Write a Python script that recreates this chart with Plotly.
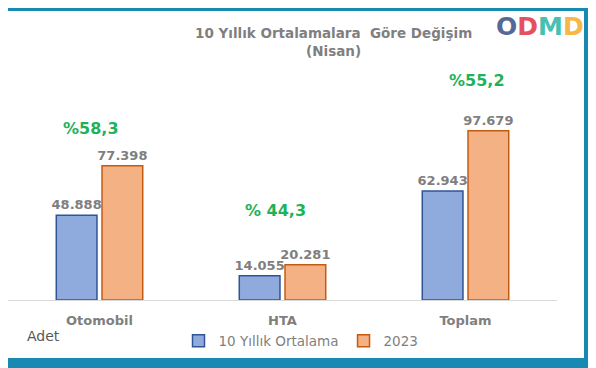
import plotly.graph_objects as go

categories = ["Otomobil", "HTA", "Toplam"]
avg10 = [48888, 14055, 62943]
y2023 = [77398, 20281, 97679]
pct_labels = ["%58,3", "% 44,3", "%55,2"]
series_names = ["10 Yıllık Ortalama", "2023"]

def fmt(v):
    return f"{v:,}".replace(",", ".")

FONT = "DejaVu Sans"
GRAY = "#7f7f7f"

fig = go.Figure()
for name, vals, fill, edge in [(series_names[0], avg10, "#8faadc", "#2f5597"),
                               (series_names[1], y2023, "#f4b183", "#c55a11")]:
    fig.add_trace(go.Bar(
        name=name, x=categories, y=vals,
        marker=dict(color=fill, line=dict(color=edge, width=1.5)),
        text=[fmt(v) for v in vals], textposition="outside", constraintext="none",
        textfont=dict(family=FONT, size=13, color=GRAY, weight="bold"),
        cliponaxis=False,
    ))

# page body has an 8px margin: reference coords (X, Y) -> figure coords (X-8, Y-8)
OFF = 8
W, H = 588, 360
L, R, T, B = 0, 39, 84, 68
pw, ph = W - L - R, H - T - B
def px(X): return (X - OFF - L) / pw
def py(Y): return (H - B - (Y - OFF)) / ph

fig.add_shape(type="rect", xref="paper", yref="paper",
              x0=px(8), x1=px(584), y0=py(358), y1=py(11),
              fillcolor="white", line=dict(width=0), layer="below")

# percentage annotations
shifts = [(-9, 37), (-7, 54), (11, 50)]
for i, lab in enumerate(pct_labels):
    fig.add_annotation(x=i, y=y2023[i], xref="x", yref="y", text=lab,
                       showarrow=False, xshift=shifts[i][0], yshift=shifts[i][1],
                       xanchor="center", yanchor="middle",
                       font=dict(family=FONT, size=16, color="#1fb25a", weight="bold"))

# title
fig.add_annotation(x=px(333), y=py(42), xref="paper", yref="paper",
                   text="10 Yıllık Ortalamalara  Göre Değişim<br>(Nisan)",
                   showarrow=False, align="center", xanchor="center", yanchor="middle",
                   font=dict(family=FONT, size=13.5, color=GRAY, weight="bold"))

# Adet
fig.add_annotation(x=px(25), y=py(336), xref="paper", yref="paper", text="Adet",
                   showarrow=False, xanchor="left", yanchor="middle",
                   font=dict(family=FONT, size=14, color="#595959"))

# logo
logo_html = ("<span style='color:rgb(85,105,150)'>O</span>"
             "<span style='color:rgb(228,80,95)'>D</span>"
             "<span style='color:rgb(70,192,178)'>M</span>"
             "<span style='color:rgb(248,182,70)'>D</span>")
fig.add_annotation(x=px(540), y=py(26), xref="paper", yref="paper", text=logo_html,
                   showarrow=False, xanchor="center", yanchor="middle",
                   font=dict(family=FONT, size=25, weight="bold"))

fig.update_layout(
    width=W, height=H,
    margin=dict(l=L, r=R, t=T, b=B, autoexpand=False),
    paper_bgcolor="#1789b3", plot_bgcolor="rgba(0,0,0,0)",
    barmode="group", bargap=0.5, bargroupgap=0.11,
    showlegend=True,
    legend=dict(orientation="h", x=px(301), xanchor="center", y=py(341), yanchor="middle",
                font=dict(family=FONT, size=13.5, color=GRAY),
                itemwidth=30, bgcolor="rgba(0,0,0,0)"),
    xaxis=dict(showline=True, linecolor="#d9d9d9", linewidth=1, showgrid=False,
               ticks="", ticklabelstandoff=8,
               tickfont=dict(family=FONT, size=13, color=GRAY, weight="bold")),
    yaxis=dict(range=[0, 120000], visible=False, showgrid=False),
)

fig.write_html("out.html")
